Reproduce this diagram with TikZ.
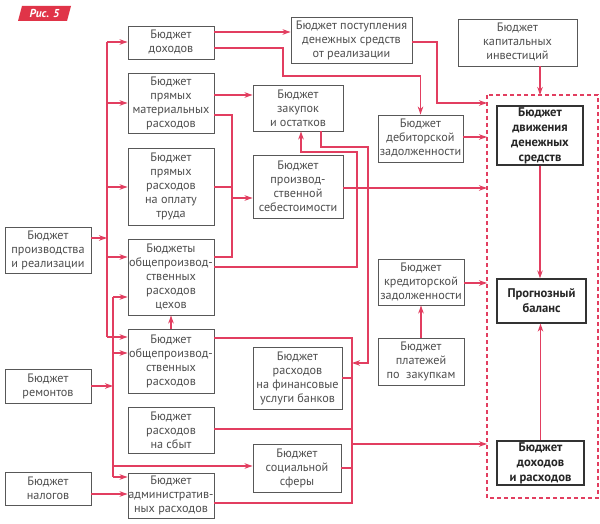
\documentclass[tikz,border=0pt]{standalone}
\usepackage{fontspec}
\setmainfont{PT Sans}
\usetikzlibrary{arrows.meta}
\definecolor{rd}{RGB}{226,62,96}
\definecolor{tagred}{RGB}{224,52,72}
\definecolor{bd}{RGB}{88,88,88}
\definecolor{tx}{RGB}{78,78,78}
\newcommand{\mybox}[7][]{\node[bx,#1,minimum width={#5-#3},minimum height={#6-#4}] (#2) at ({(#3+#5)/2},{(#4+#6)/2}) {#7};}
\begin{document}
\begin{tikzpicture}[x=1pt,y=-1pt,
 bx/.style={draw=bd,line width=0.9pt,fill=white,text=tx,align=center,inner sep=0pt,font=\fontsize{12.2}{14}\selectfont},
 bb/.style={line width=1.3pt,draw=black!80,text=black!85,font=\fontsize{12.6}{15}\selectfont\bfseries},
 ln/.style={draw=rd,line width=1.1pt},
 ar/.style={ln,-{Stealth[length=8pt,width=5.5pt]}},
 dsh/.style={draw=rd,line width=1.2pt,dash pattern=on 4pt off 3pt}]
\useasboundingbox (0,0) rectangle (600,524);
\fill[white] (0,0) rectangle (600,524);
% tag
\fill[tagred] (22,6) -- (71,6) -- (67,21) -- (18,21) -- cycle;
\node[text=white,font=\fontsize{11.5}{13}\selectfont\bfseries\itshape,inner sep=0pt] (tag) at (44.5,13.5) {Рис. 5};
% dashed frame
\draw[dsh] (487,95) rectangle (598,498);
\coordinate (fr) at (487,95);
% boxes
\mybox{prod}{5}{227}{91}{273}{Бюджет\\производства\\и реализации}
\mybox{rem}{5}{369}{91}{403}{Бюджет\\ремонтов}
\mybox{nal}{5}{472}{91}{505}{Бюджет\\налогов}
\mybox{doh}{128}{26}{214}{59}{Бюджет\\доходов}
\mybox{pmr}{128}{73}{214}{133}{Бюджет\\прямых\\материальных\\расходов}
\mybox{pot}{128}{148}{214}{225}{Бюджет\\прямых\\расходов\\на оплату\\труда}
\mybox{cex}{128}{239}{214}{315}{Бюджеты\\общепроизвод-\\ственных\\расходов\\цехов}
\mybox{opr}{128}{329}{214}{393}{Бюджет\\общепроизвод-\\ственных\\расходов}
\mybox{sbyt}{128}{407}{214}{453}{Бюджет\\расходов\\на сбыт}
\mybox{adm}{128}{473}{214}{518}{Бюджет\\административ-\\ных расходов}
\mybox{post}{291}{17}{412}{63}{Бюджет поступления\\денежных средств\\от реализации}
\mybox{zak}{253}{85}{343}{131}{Бюджет\\закупок\\и остатков}
\mybox{seb}{253}{155}{343}{218}{Бюджет\\производ-\\ственной\\себестоимости}
\mybox{fin}{253}{347}{342}{409}{Бюджет\\расходов\\на финансовые\\услуги банков}
\mybox{soc}{253}{444}{341}{492}{Бюджет\\социальной\\сферы}
\mybox{deb}{378}{115}{463}{162}{Бюджет\\дебиторской\\задолженности}
\mybox{kred}{378}{259}{464}{305}{Бюджет\\кредиторской\\задолженности}
\mybox{plat}{378}{338}{464}{385}{Бюджет\\платежей\\по \ закупкам}
\mybox{kap}{458}{19}{577}{66}{Бюджет\\капитальных\\инвестиций}
\mybox[bb]{dds}{497}{106}{583}{165}{Бюджет\\движения\\денежных\\средств}
\mybox[bb]{bal}{497}{279}{586}{323}{Прогнозный\\баланс}
\mybox[bb]{ddr}{497}{441}{584}{485}{Бюджет\\доходов\\и расходов}
% bus coordinates
\coordinate (b1t) at (107,42);
\coordinate (b1b) at (107,337);
\coordinate (b2t) at (113,297);
\coordinate (b2b) at (113,477);
\coordinate (c1) at (232,115);
\coordinate (c2) at (232,257);
\coordinate (k1) at (352,338);
\coordinate (k2) at (352,503);
% left buses
\draw[ln] (b1t) -- (b1b);
\draw[ln] (b2t) -- (b2b);
\draw[ar] (prod.east |- 0,238) -- (b1t |- 0,238);
\draw[ar] (b1t) -- (doh.west |- b1t);
\draw[ar] (b1t |- 0,103) -- (pmr.west |- 0,103);
\draw[ar] (b1t |- 0,187) -- (pot.west |- 0,187);
\draw[ar] (b1t |- 0,257) -- (cex.west |- 0,257);
\draw[ar] (b1b) -- (opr.west |- b1b);
\draw[ar] (rem.east |- 0,386) -- (b2t |- 0,386);
\draw[ar] (b2t) -- (cex.west |- b2t);
\draw[ar] (b2t |- 0,353) -- (opr.west |- 0,353);
\draw[ar] (b2b) -- (adm.west |- b2b);
\draw[ar] (b2t |- 0,466) -- (soc.west |- 0,466);
\draw[ar] (nal.east |- 0,494) -- (adm.west |- 0,494);
\draw[ar] (opr.north) -- (cex.south);
% top
\draw[ar] (doh.east |- 0,32) -- (post.west |- 0,32);
\draw[ar] (doh.east |- 0,48) -| (283,76) -| (deb.north);
\draw[ar] (post.east |- 0,42) -| (437,103) -- (fr |- 0,103);
\draw[ar] (dds.north |- kap.south) -- (dds.north |- fr);
\draw[ar] (deb.east |- 0,137) -- (fr |- 0,137);
\draw[ar] (pmr.east |- 0,95) -- (zak.west |- 0,95);
% collector to seb
\draw[ln] (pmr.east |- c1) -- (c1) -- (c2) -- (cex.east |- c2);
\draw[ln] (pot.east |- 0,187) -- (c1 |- 0,187);
\draw[ar] (c1 |- 0,198) -- (seb.west |- 0,198);
\draw[ar] (seb.east |- 0,188) -- (fr |- 0,188);
% cex to zak
\draw[ar] (cex.east |- 0,267) -- (357,267) -- (357,152) -| (zak.south -| 301,0);
% zak to collector
\draw[ar] (zak.south -| 321,0) -- (321,147) -- (368,147) -- (368,363) -- (k1 |- 0,363);
% bottom collector
\draw[ln] (opr.east |- k1) -- (k1) -- (k2) -- (adm.east |- k2);
\draw[ln] (sbyt.east |- 0,429) -- (k1 |- 0,429);
\draw[ln] (fin.east |- 0,378) -- (k1 |- 0,378);
\draw[ln] (soc.east |- 0,468) -- (k1 |- 0,468);
\draw[ar] (k1 |- 0,444) -- (fr |- 0,444);
% right
\draw[ar] (kred.east |- 0,283) -- (fr |- 0,283);
\draw[ar] (plat.north) -- (kred.south);
\draw[ar] (dds.south) -- (bal.north -| dds.south);
\draw[ar] (ddr.north) -- (bal.south -| ddr.north);
\end{tikzpicture}
\end{document}
